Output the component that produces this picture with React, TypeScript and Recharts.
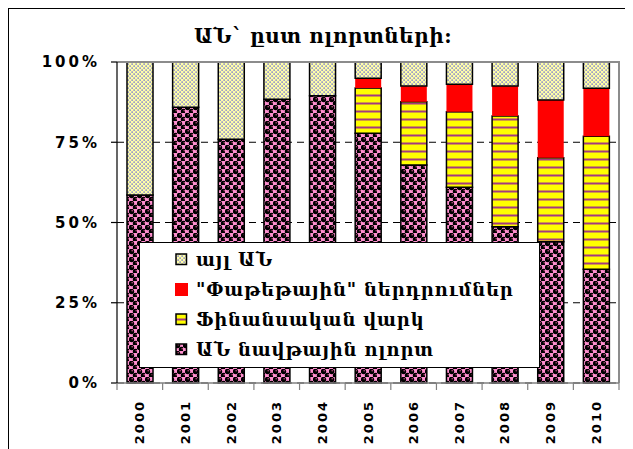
import { Bar, BarChart, CartesianGrid, Legend, ReferenceLine, XAxis, YAxis } from "recharts";

const YEARS = ["2000", "2001", "2002", "2003", "2004", "2005", "2006", "2007", "2008", "2009", "2010"];
const OIL_SECTOR = [58.6, 85.9, 75.9, 88.4, 89.5, 77.8, 67.9, 61.0, 48.7, 44.0, 35.4];
const LOANS = [0, 0, 0, 0, 0, 14.1, 19.7, 23.5, 34.5, 26.2, 41.5];
const PORTFOLIO = [0, 0, 0, 0, 0, 3.0, 4.9, 8.6, 9.3, 18.0, 14.9];
const OTHER = [41.4, 14.1, 24.1, 11.6, 10.5, 5.1, 7.5, 6.9, 7.5, 11.8, 8.2];
const Y_TICKS = [0, 25, 50, 75, 100];

const TITLE = "ԱՆ` ըստ ոլորտների:";

// bottom to top in the stack
const SERIES = [
  { key: "oil", name: "ԱՆ նավթային ոլորտ", fill: "url(#bubbles)", stroke: "#000" },
  { key: "loans", name: "Ֆինանսական վարկ", fill: "url(#stripes)", stroke: "#000" },
  { key: "portfolio", name: "\"Փաթեթային\" ներդրումներ", fill: "#FF0000", stroke: "none" },
  { key: "other", name: "այլ ԱՆ", fill: "url(#dots)", stroke: "#000" },
];

const data = YEARS.map((year, i) => ({
  year,
  oil: OIL_SECTOR[i],
  loans: LOANS[i],
  portfolio: PORTFOLIO[i],
  other: OTHER[i],
}));

const ARM_FONT = "'DejaVu Serif', serif";
const NUM_FONT = "'DejaVu Sans', sans-serif";

function YearTick(props: any) {
  const { x, y, payload, index } = props;
  const half = payload?.offset ?? 22.8;
  const isLast = index === YEARS.length - 1;
  const ty = y + 17;
  return (
    <g>
      <line x1={x - half} y1={y} x2={x - half} y2={y + 7} stroke="#808080" strokeWidth={1.2} />
      {isLast && <line x1={x + half} y1={y} x2={x + half} y2={y + 7} stroke="#808080" strokeWidth={1.2} />}
      <text
        x={x}
        y={ty}
        transform={`rotate(-90, ${x}, ${ty})`}
        textAnchor="end"
        dominantBaseline="central"
        fontFamily={NUM_FONT}
        fontWeight="bold"
        fontSize={13}
        letterSpacing={2}
        fill="#000"
      >
        {payload.value}
      </text>
    </g>
  );
}

function LegendBox() {
  const rows = [...SERIES].reverse();
  return (
    <div
      style={{
        width: 401,
        height: 126,
        boxSizing: "border-box",
        background: "#fff",
        border: "1.5px solid #000",
        position: "relative",
      }}
    >
      {rows.map((s, i) => (
        <div
          key={s.key}
          style={{
            position: "absolute",
            left: 35,
            top: 16 + i * 30 - 12,
            height: 24,
            display: "flex",
            alignItems: "center",
          }}
        >
          <svg width={13} height={13} style={{ marginRight: 8 }}>
            {s.stroke === "none" ? (
              <rect x={0} y={0} width={13} height={13} fill={s.fill} />
            ) : (
              <rect x={1} y={1} width={10.5} height={10.5} fill={s.fill} stroke="#000" strokeWidth={1.5} />
            )}
          </svg>
          <span
            style={{
              fontFamily: ARM_FONT,
              fontWeight: "bold",
              fontSize: 18,
              letterSpacing: 0.8,
              color: "#000",
              whiteSpace: "nowrap",
            }}
          >
            {s.name}
          </span>
        </div>
      ))}
    </div>
  );
}

export default function App() {
  return (
    <div
      style={{
        position: "relative",
        width: 624,
        height: 440,
        borderLeft: "1px solid #000",
        borderTop: "1px solid #000",
        background: "#fff",
      }}
    >
      <svg width={0} height={0} style={{ position: "absolute" }}>
        <defs>
          <pattern id="dots" width={4} height={4} patternUnits="userSpaceOnUse">
            <rect width={4} height={4} fill="#FFFFA8" />
            <rect x={0.5} y={0.5} width={1.2} height={1.2} fill="#3838E8" />
            <rect x={2.5} y={2.5} width={1.2} height={1.2} fill="#3838E8" />
          </pattern>
          <pattern id="stripes" width={8} height={8} patternUnits="userSpaceOnUse">
            <rect width={8} height={8} fill="#FFFF00" />
            <rect y={5.5} width={8} height={2} fill="#A33A80" />
          </pattern>
          <pattern id="bubbles" width={8} height={8} patternUnits="userSpaceOnUse">
            <rect width={8} height={8} fill="#FF8FCF" />
            <circle cx={2.5} cy={2.5} r={2.7} fill="#000" />
            <circle cx={6.5} cy={6.5} r={2.7} fill="#000" />
            <circle cx={3.2} cy={1.8} r={0.8} fill="#C0507F" />
            <circle cx={7.2} cy={5.8} r={0.8} fill="#C0507F" />
          </pattern>
        </defs>
      </svg>
      <div
        style={{
          position: "absolute",
          left: 108,
          top: 52,
          width: 501,
          height: 322,
          borderRight: "2px solid #8C8C8C",
        }}
      />
      <div
        style={{
          position: "absolute",
          left: 0,
          width: 628,
          top: 15,
          textAlign: "center",
          fontFamily: ARM_FONT,
          fontWeight: "bold",
          fontSize: 20,
          letterSpacing: 0.5,
          lineHeight: "24px",
          color: "#000",
        }}
      >
        {TITLE}
      </div>
      <BarChart
        width={624}
        height={440}
        data={data}
        barSize={26}
        margin={{ top: 53, right: 14, bottom: 0, left: 0 }}
        style={{ position: "absolute", left: 0, top: 0 }}
      >
        <CartesianGrid vertical={false} stroke="#000" strokeDasharray="7 5" />
        <XAxis
          dataKey="year"
          height={66}
          tickSize={0}
          tickMargin={0}
          tickLine={false}
          axisLine={{ stroke: "#808080", strokeWidth: 1.5 }}
          tick={<YearTick />}
          interval={0}
        />
        <YAxis
          width={108}
          domain={[0, 100]}
          ticks={Y_TICKS}
          tickFormatter={(v: number) => `${v}%`}
          tickSize={6}
          tickMargin={11}
          axisLine={{ stroke: "#000", strokeWidth: 1.2 }}
          tickLine={{ stroke: "#000", strokeWidth: 1.2 }}
          tick={{ fill: "#000", fontSize: 15, fontWeight: "bold", fontFamily: NUM_FONT, letterSpacing: 3 }}
        />
        <ReferenceLine y={100} stroke="#8C8C8C" strokeWidth={2} />
        {SERIES.map((s) => (
          <Bar
            key={s.key}
            dataKey={s.key}
            name={s.name}
            stackId="a"
            fill={s.fill}
            stroke={s.stroke}
            strokeWidth={s.stroke === "none" ? 0 : 1.5}
            isAnimationActive={false}
          />
        ))}
        <Legend
          layout="vertical"
          align="center"
          verticalAlign="middle"
          wrapperStyle={{ left: 130, top: 233, width: 401, height: 126 }}
          content={() => <LegendBox />}
        />
      </BarChart>
    </div>
  );
}
